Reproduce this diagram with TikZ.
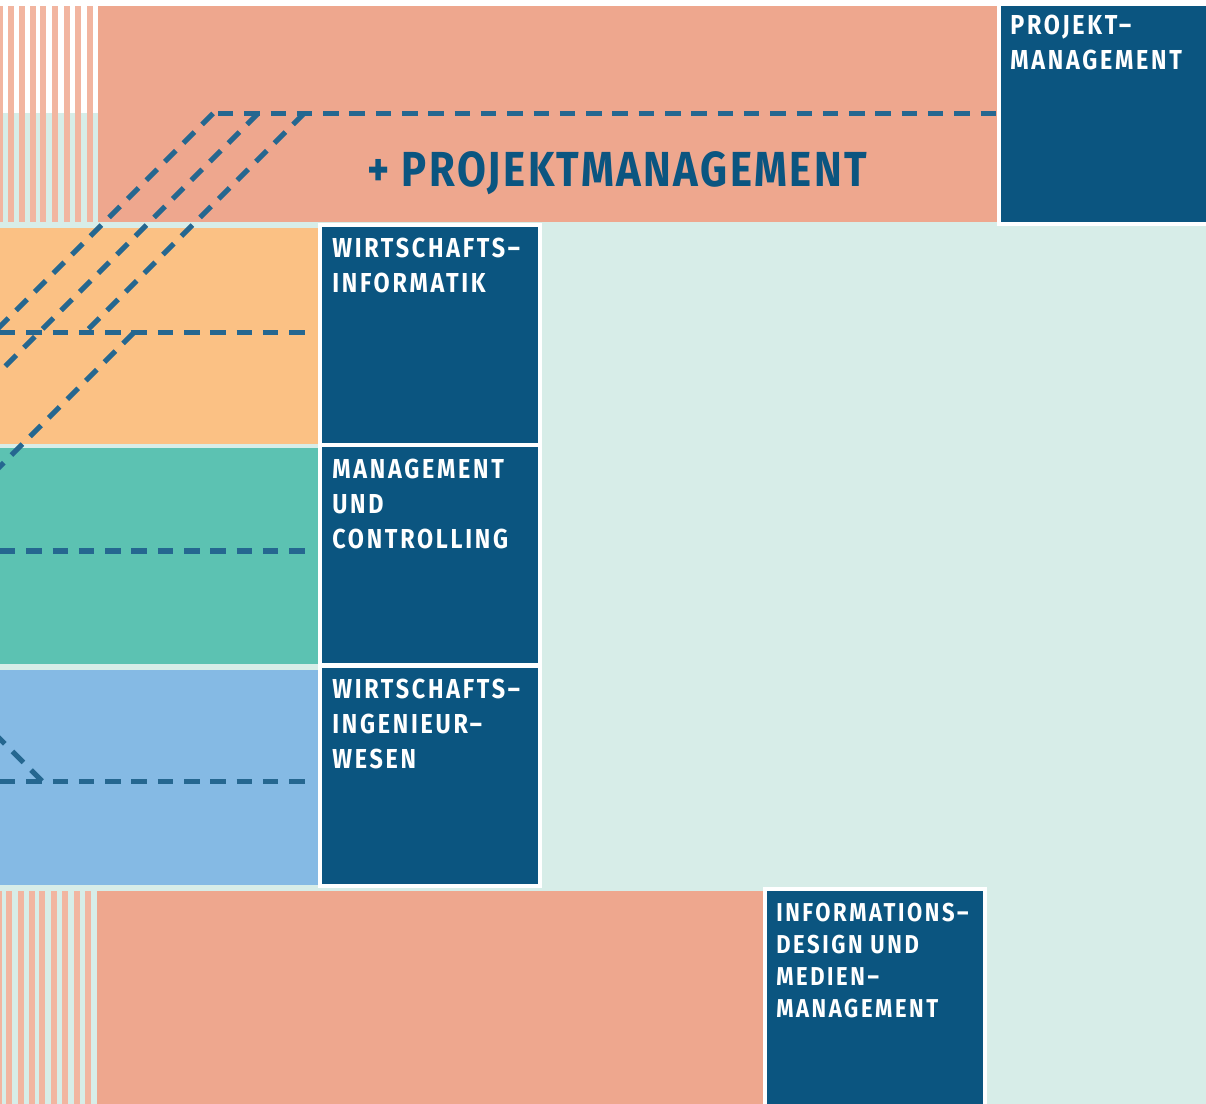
\documentclass[tikz,border=0pt]{standalone}
\usepackage{fontspec}
\setmainfont{Fira Sans}
\newfontfamily\fachfont{Fira Sans}[FakeStretch=0.85, LetterSpace=10]
\newfontfamily\titelfont{Fira Sans}[FakeStretch=0.85, LetterSpace=5]
\usetikzlibrary{positioning, calc}
\definecolor{lachs}{HTML}{EEA78E}
\definecolor{lachshell}{HTML}{F2B5A0}
\definecolor{mint}{HTML}{D7EDE8}
\definecolor{bandorange}{HTML}{FBC184}
\definecolor{bandgruen}{HTML}{5CC2B2}
\definecolor{bandblau}{HTML}{85BAE4}
\definecolor{fachblau}{HTML}{0B5580}
\definecolor{linienblau}{HTML}{256790}
\tikzstyle{fach} = [rectangle, anchor=north west, minimum width=5.51cm, minimum height=5.51cm, inner sep=0pt, outer sep=0pt, draw=white, line width=3.2pt, fill=fachblau]
\tikzstyle{fachtext} = [anchor=north west, align=left, inner sep=0pt, text=white, font=\fachfont\bfseries\fontsize{19.5}{24.9}\selectfont]
\tikzstyle{linie} = [draw=linienblau, line width=3.56pt, dash pattern=on 11pt off 7.7pt]

\begin{document}
\begin{tikzpicture}[x=0.025cm, y=-0.025cm]
\clip (0,0) rectangle (1206,1104);
\fill[mint] (0,0) rectangle (1206,1104);
\fill[white] (0,0) rectangle (1206,6);
\fill[white] (0,6) rectangle (98,113.5);
\foreach \x in {-3,8,19,30,40,52,64,75,87}
  \fill[lachshell] (\x,6) rectangle ++(6,216);
\foreach \x in {-4,6,18,29,39,51,62,74,85}
  \fill[lachshell] (\x,891) rectangle ++(6,220);
\fill[lachs] (98,6) rectangle (997,222);
\fill[lachs] (97,891) rectangle (765,1110);
\fill[bandorange] (0,227.5) rectangle (318,443.5);
\fill[bandgruen] (0,448) rectangle (318,664);
\fill[bandblau] (0,670) rectangle (318,885);

\node (titel) [anchor=base west, inner sep=0pt, text=fachblau, font=\titelfont\bfseries\fontsize{35}{40}\selectfont] at (367,187) {+ PROJEKTMANAGEMENT};

\coordinate (oben) at (218,113.5);
\coordinate (obenEnde) at (996,113.5);
\coordinate (a1) at (213,113.5);
\coordinate (a0) at (-6,332.5);
\coordinate (b1) at (258,113.5);
\coordinate (b0) at (-100,471.5);
\coordinate (c1) at (304,113.5);
\coordinate (c0) at (85,332.5);
\coordinate (d1) at (134,332.5);
\coordinate (d0) at (-100,566.5);
\coordinate (e1) at (42,781);
\coordinate (e0) at (-60,679);
\coordinate (h1a) at (0,332.5);
\coordinate (h1b) at (308,332.5);
\coordinate (h2a) at (0,551);
\coordinate (h2b) at (308,551);
\coordinate (h3a) at (0,781);
\coordinate (h3b) at (308,781);

\draw[linie] (oben) -- (obenEnde);
\draw[linie] (a1) -- (a0);
\draw[linie] (b1) -- (b0);
\draw[linie] (c1) -- (c0);
\draw[linie] (d1) -- (d0);
\draw[linie] (e1) -- (e0);
\draw[linie] (h1a) -- (h1b);
\draw[linie] (h2a) -- (h2b);
\draw[linie] (h3a) -- (h3b);

\node (pm) [fach] at (998.75,3.75) {};
\node (wi) [fach] at (319.75,224.75) {};
\node (mc) [fach, below=0pt of wi] {};
\node (wiw) [fach, below=0pt of mc] {};
\node (idm) [fach] at (764.75,888.75) {};

\node (pmText) [fachtext] at ($(pm.north west)+(11.25,11.25)$) {PROJEKT\textendash\\MANAGEMENT};
\node (wiText) [fachtext] at ($(wi.north west)+(12.25,13.25)$) {WIRTSCHAFTS\textendash\\INFORMATIK};
\node (mcText) [fachtext] at ($(mc.north west)+(12.25,13.25)$) {MANAGEMENT\\UND\\CONTROLLING};
\node (wiwText) [fachtext] at ($(wiw.north west)+(12.25,13.25)$) {WIRTSCHAFTS\textendash\\INGENIEUR\textendash\\WESEN};
\node (idmText) [fachtext, font=\fachfont\bfseries\fontsize{18.4}{22.8}\selectfont] at ($(idm.north west)+(11.25,13.75)$) {INFORMATIONS\textendash\\DESIGN UND\\MEDIEN\textendash\\MANAGEMENT};
\end{tikzpicture}
\end{document}
